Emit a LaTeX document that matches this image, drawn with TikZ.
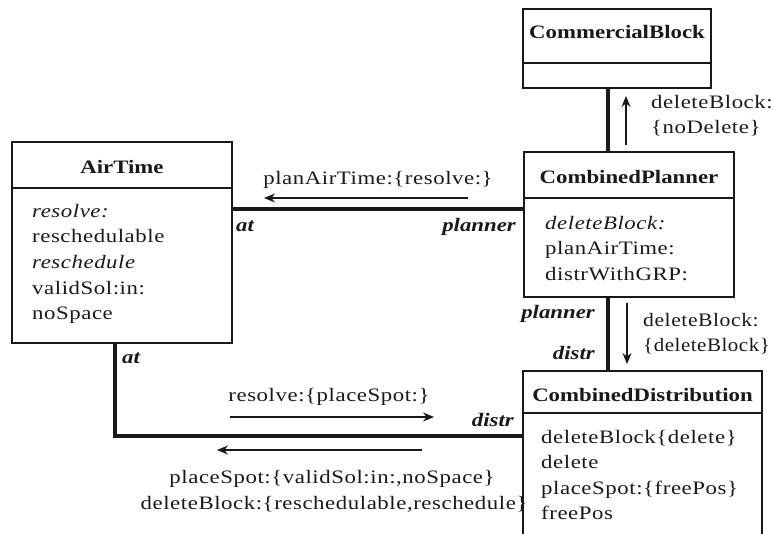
\documentclass[tikz,border=0pt]{standalone}
\usepackage{graphicx}
\usepackage{fontspec}
\setmainfont{Liberation Serif}[FakeStretch=1.2,
  UprightFeatures={LetterSpace=3},
  ItalicFeatures={LetterSpace=3}]
\usetikzlibrary{arrows.meta}
\definecolor{ink}{gray}{0.1}
\begin{document}
\begin{tikzpicture}[x=1pt,y=-1pt,
  every node/.style={font=\fontsize{19}{25.7}\selectfont, inner sep=0pt, text=ink},
  classbox/.style={draw=ink, line width=1.4pt, fill=white},
  sepline/.style={draw=ink, line width=1.3pt},
  title/.style={font=\fontsize{19}{25.7}\selectfont\bfseries, anchor=base},
  item/.style={anchor=base west},
  itemit/.style={anchor=base west, font=\fontsize{19}{25.7}\selectfont\itshape},
  role/.style={font=\fontsize{19}{25.7}\selectfont\bfseries\itshape},
  link/.style={draw=ink, line width=3.3pt},
  msg/.style={draw=ink, line width=1.2pt, -{Stealth[length=11pt,width=9pt]}},
  msglabel/.style={anchor=base},
]
\useasboundingbox (0,0) rectangle (773,533);
\clip (0,0) rectangle (773,533);

% ---- class boxes ----
\node[classbox, minimum width=220pt, minimum height=201pt] (air)  at (122,242.5) {};
\node[classbox, minimum width=188pt, minimum height=79pt]  (comm) at (617,48.5) {};
\node[classbox, minimum width=210pt, minimum height=145pt] (plan) at (629,224.5) {};
\node[classbox, minimum width=239pt, minimum height=189pt] (dist) at (642.5,465.5) {};

% header separators
\draw[sepline] ([xshift=1pt]air.west |- 0,188) -- ([xshift=-1pt]air.east |- 0,188);
\draw[sepline] ([xshift=2pt]comm.west |- 0,63) -- ([xshift=-2pt]comm.east |- 0,63);
\draw[sepline] ([xshift=1pt]plan.west |- 0,198) -- ([xshift=-1pt]plan.east |- 0,198);
\draw[sepline] ([xshift=1pt]dist.west |- 0,413) -- ([xshift=-1pt]dist.east |- 0,413);

% titles
\node[title] (airT)  at (air.center |- 0,173) {AirTime};
\node[title] (commT) at (comm.center |- 0,38) {CommercialBlock};
\node[title] (planT) at (plan.center |- 0,183) {CombinedPlanner};
\node[title] (distT) at (dist.center |- 0,401) {CombinedDistribution};

% AirTime operations
\node[itemit] (a1) at (32,217)   {resolve:};
\node[item]   (a2) at (32,242.7) {reschedulable};
\node[itemit] (a3) at (32,268.4) {reschedule};
\node[item]   (a4) at (32,294)   {validSol:in:};
\node[item]   (a5) at (32,319.7) {noSpace};

% CombinedPlanner operations
\node[itemit] (p1) at (545,229)   {deleteBlock:};
\node[item]   (p2) at (545,254.5) {planAirTime:};
\node[item]   (p3) at (545,280)   {distrWithGRP:};

% CombinedDistribution operations
\node[item] (d1) at (541,443) {deleteBlock\{delete\}};
\node[item] (d2) at (541,468.5) {delete};
\node[item] (d3) at (541,494) {placeSpot:\{freePos\}};
\node[item] (d4) at (541,519.7) {freePos};

% ---- associations ----
\coordinate (vx)  at (608,0);
\coordinate (lx)  at (115,0);
\coordinate (hy1) at (0,209);
\coordinate (hy2) at (0,436);
\draw[link] (comm.south -| vx) -- (plan.north -| vx);
\draw[link] (air.east |- hy1) -- (plan.west |- hy1);
\draw[link] (plan.south -| vx) -- (dist.north -| vx);
\draw[link] (air.south -| lx) |- (dist.west |- hy2);

% role names
\node[role, anchor=base west] (r1) at (236,231) {at};
\node[role, anchor=base east] (r2) at (516,231) {planner};
\node[role, anchor=base east] (r3) at (595,318) {planner};
\node[role, anchor=base east] (r4) at (595,359) {distr};
\node[role, anchor=base west] (r5) at (122,363) {at};
\node[role, anchor=base east] (r6) at (514,426) {distr};

% ---- messages ----
\coordinate (m1a) at (626,145); \coordinate (m1b) at (626,96);
\coordinate (m2a) at (468,198); \coordinate (m2b) at (264,198);
\coordinate (m3a) at (627,303); \coordinate (m3b) at (627,364);
\coordinate (m4a) at (230,417); \coordinate (m4b) at (434,417);
\coordinate (m5a) at (422,450); \coordinate (m5b) at (217,450);
\draw[msg] (m1a) -- (m1b);
\draw[msg] (m2a) -- (m2b);
\draw[msg] (m3a) -- (m3b);
\draw[msg] (m4a) -- (m4b);
\draw[msg] (m5a) -- (m5b);

\node[anchor=base west] (l1a) at (651,108) {deleteBlock:};
\node[anchor=base west] (l1b) at (651,133) {\{noDelete\}};
\node[msglabel] (l2) at (378,184) {planAirTime:\{resolve:\}};
\node[anchor=base west] (l3a) at (643,326) {\scalebox{0.95}[1]{deleteBlock:}};
\node[anchor=base west] (l3b) at (643,351.5) {\scalebox{0.92}[1]{\{deleteBlock\}}};
\node[msglabel] (l4) at (329,401) {resolve:\{placeSpot:\}};
\node[msglabel] (l5a) at (332,483) {placeSpot:\{validSol:in:,noSpace\}};
\node[msglabel] (l5b) at (334,509) {deleteBlock:\{reschedulable,reschedule\}};
\end{tikzpicture}
\end{document}
